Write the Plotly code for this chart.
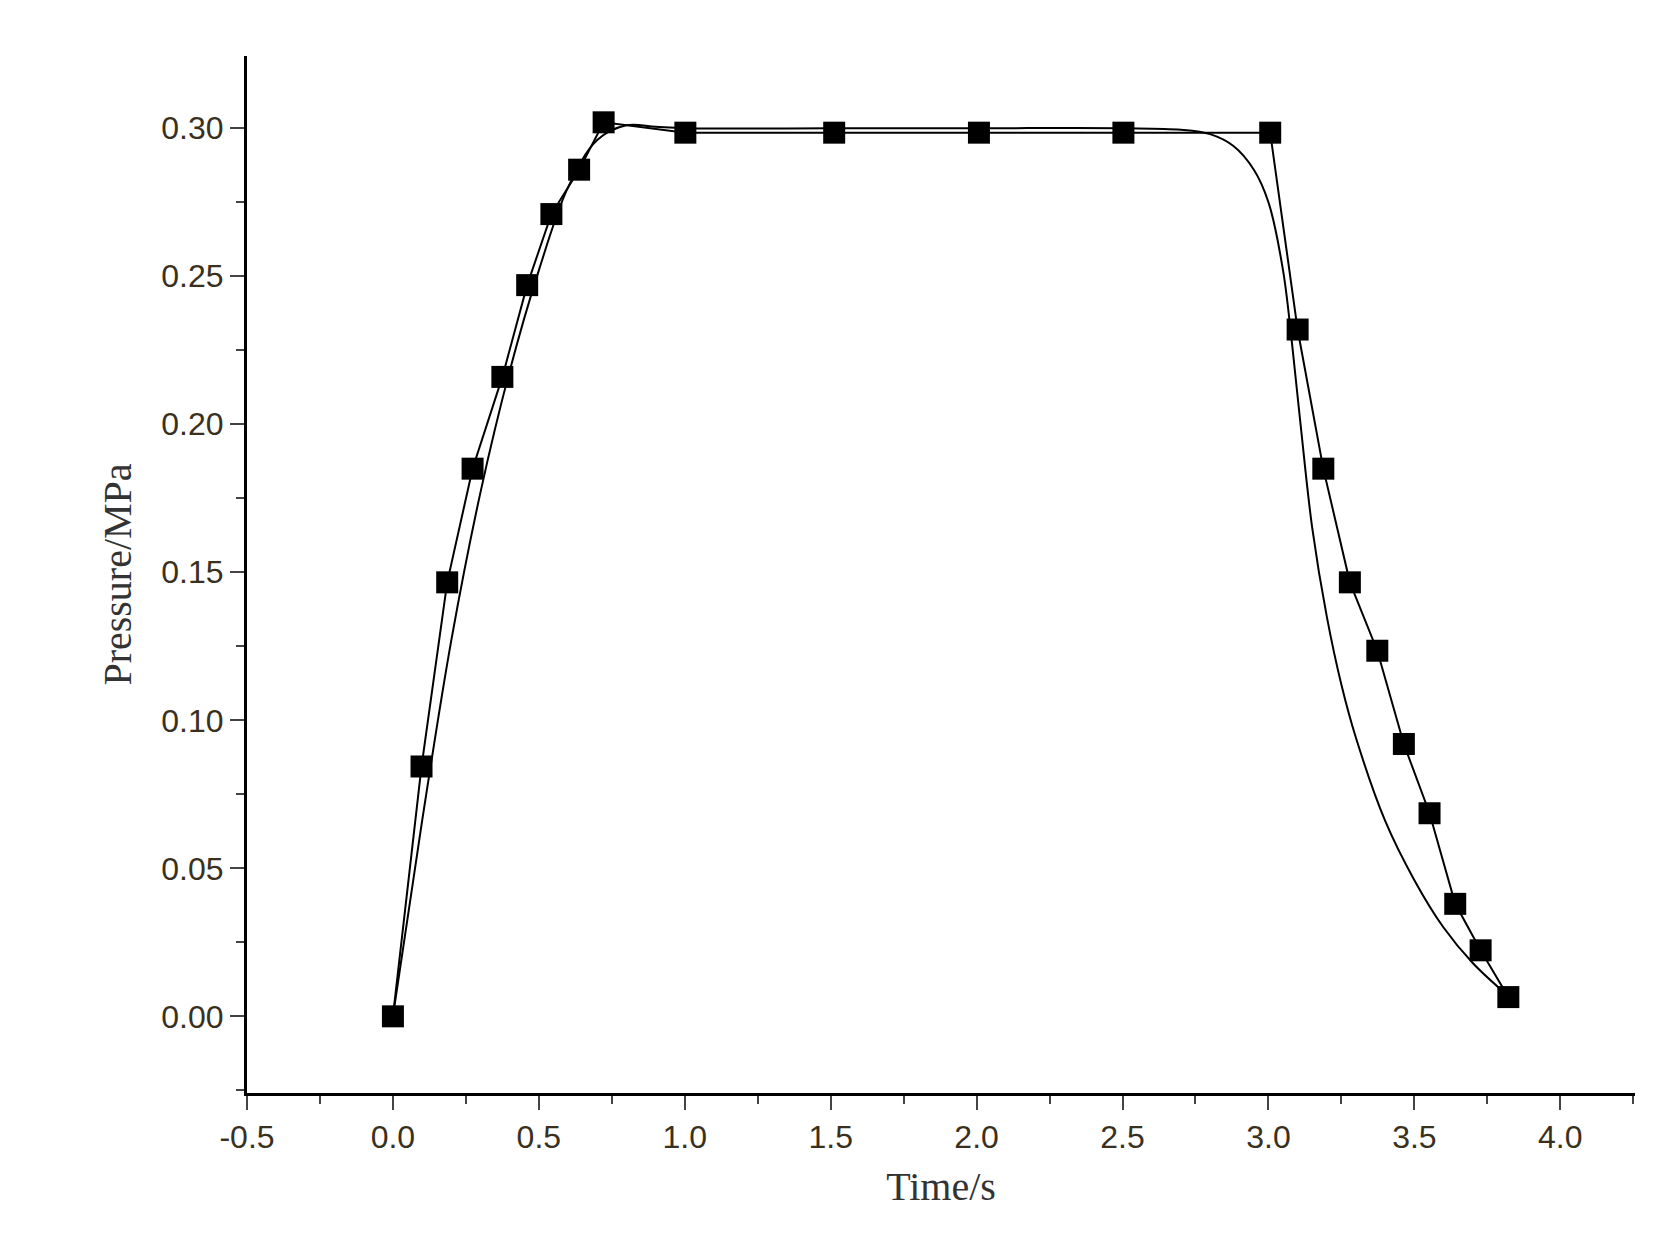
import plotly.graph_objects as go

exp_t = [0.0, 0.098, 0.186, 0.273, 0.375, 0.46, 0.543, 0.638, 0.722, 1.002, 1.512, 2.008, 2.503, 3.006,
         3.10, 3.188, 3.279, 3.373, 3.464, 3.552, 3.64, 3.727, 3.822]
exp_p = [0.0, 0.0844, 0.1466, 0.185, 0.216, 0.247, 0.271, 0.286, 0.302, 0.2985, 0.2985, 0.2985, 0.2985, 0.2985,
         0.232, 0.185, 0.1466, 0.1235, 0.092, 0.0686, 0.038, 0.0223, 0.0065]

sim_t = [0.0, 0.1, 0.2, 0.3, 0.4, 0.5, 0.6, 0.7, 0.8, 0.9, 1.0, 1.5, 2.0, 2.5, 2.7, 2.8, 2.88,
         2.95, 3.0, 3.05, 3.08, 3.11, 3.15, 3.2, 3.25, 3.3, 3.4, 3.5, 3.6, 3.7, 3.82]
sim_p = [0.0, 0.066, 0.127, 0.177, 0.218, 0.252, 0.28, 0.296, 0.301, 0.3005, 0.3, 0.3, 0.3, 0.3, 0.2995,
         0.298, 0.294, 0.286, 0.275, 0.252, 0.228, 0.2, 0.165, 0.135, 0.112, 0.094, 0.066, 0.046, 0.03, 0.018, 0.007]

fig = go.Figure()
fig.add_trace(go.Scatter(x=sim_t, y=sim_p, mode="lines", line=dict(color="black", width=2, shape="spline"),
                         showlegend=False))
fig.add_trace(go.Scatter(x=exp_t, y=exp_p, mode="lines+markers", line=dict(color="black", width=2),
                         marker=dict(symbol="square", size=22, color="black"), showlegend=False))

tickfont = dict(family="Liberation Sans", size=32, color="#3a3020")
fig.update_layout(
    width=1673, height=1257, plot_bgcolor="white", paper_bgcolor="white",
    margin=dict(l=239, r=46, t=48, b=172),
    xaxis=dict(range=[-0.5, 4.256], tickvals=[-0.5, 0, 0.5, 1, 1.5, 2, 2.5, 3, 3.5, 4],
               ticktext=["-0.5", "0.0", "0.5", "1.0", "1.5", "2.0", "2.5", "3.0", "3.5", "4.0"],
               showline=True, linecolor="black", linewidth=3, ticks="outside", ticklen=14, tickwidth=2,
               minor=dict(dtick=0.25, ticks="outside", ticklen=8, tickwidth=2), showgrid=False, zeroline=False,
               tickfont=tickfont,
               title=dict(text="Time/s", font=dict(family="Liberation Serif", size=40, color="#333"), standoff=18)),
    yaxis=dict(range=[-0.0259, 0.3244], tickvals=[0, 0.05, 0.1, 0.15, 0.2, 0.25, 0.3],
               ticktext=["0.00", "0.05", "0.10", "0.15", "0.20", "0.25", "0.30"],
               showline=True, linecolor="black", linewidth=3, ticks="outside", ticklen=14, tickwidth=2,
               minor=dict(dtick=0.025, ticks="outside", ticklen=8, tickwidth=2), showgrid=False, zeroline=False,
               tickfont=tickfont,
               title=dict(text="Pressure/MPa", font=dict(family="Liberation Serif", size=40, color="#333"), standoff=18)),
)
fig.write_html("out.html")
